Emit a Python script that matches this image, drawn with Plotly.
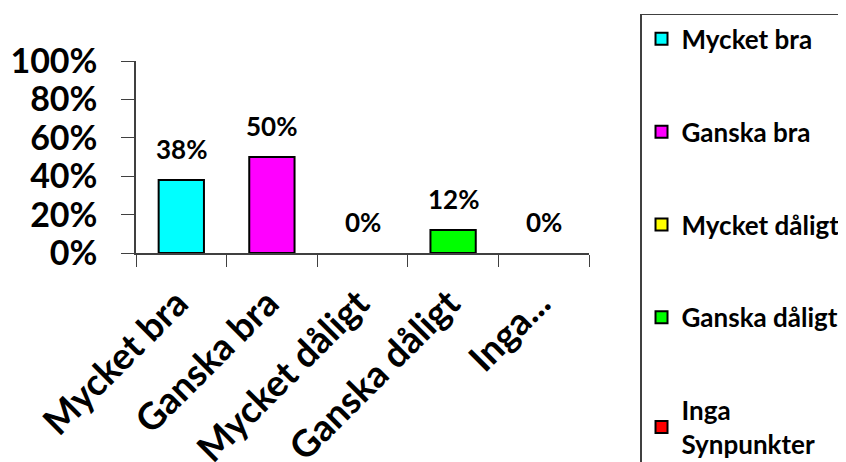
import plotly.graph_objects as go

categories = ["Mycket bra", "Ganska bra", "Mycket dåligt", "Ganska dåligt", "Inga Synpunkter"]
tick_labels = ["Mycket bra", "Ganska bra", "Mycket dåligt", "Ganska dåligt", "Inga..."]
legend_names = ["Mycket bra", "Ganska bra", "Mycket dåligt", "Ganska dåligt", "Inga<br>Synpunkter"]
values = [0.38, 0.50, 0.0, 0.12, 0.0]
colors = ["#00FFFF", "#FF00FF", "#FFFF00", "#00FF00", "#FF0000"]
y_ticks = [0, 0.2, 0.4, 0.6, 0.8, 1.0]

FONT = "Lato"

fig = go.Figure()
for cat, name, v, c in zip(categories, legend_names, values, colors):
    fig.add_trace(go.Bar(
        x=[cat], y=[v if v > 0 else None], name=name, legendgroup=cat,
        marker=dict(color=c, line=dict(color="black", width=2)),
        width=0.5,
    ))
    fig.add_annotation(
        x=cat, y=v, text=f"{round(v*100)}%", showarrow=False,
        yanchor="bottom", yshift=13,
        font=dict(family=FONT, size=26, color="black", weight="bold"),
    )

fig.update_layout(
    width=838, height=454,
    margin=dict(l=128, r=257, t=53, b=209, autoexpand=False),
    paper_bgcolor="white", plot_bgcolor="white",
    barmode="overlay",
    showlegend=True,
    legend=dict(
        x=1.1126, y=1.245, xanchor="left", yanchor="top",
        traceorder="grouped", tracegroupgap=56,
        bordercolor="#404040", borderwidth=1.5,
        font=dict(family=FONT, size=26, color="black", weight="bold"),
        entrywidth=260, maxheight=2000,
        itemclick=False,
    ),
    xaxis=dict(
        categoryorder="array", categoryarray=categories,
        tickmode="array", tickvals=categories, ticktext=tick_labels,
        tickangle=-45, tickson="boundaries", ticks="outside", ticklen=12,
        tickcolor="#404040", showline=True, linecolor="#404040", linewidth=1.5,
        tickfont=dict(family=FONT, size=37, color="black", weight="bold"),
        showgrid=False, range=[-0.5, 4.5], automargin=False,
        ticklabelstandoff=12, ticklabelshift=-4,
    ),
    yaxis=dict(
        range=[0, 1], tickvals=y_ticks, tickformat=".0%",
        ticks="outside", ticklen=13, tickcolor="#404040",
        showline=True, linecolor="#404040", linewidth=1.5,
        tickfont=dict(family=FONT, size=34, color="black", weight="bold"),
        showgrid=False, zeroline=False, ticklabelstandoff=17, automargin=False,
    ),
)

fig.write_html("out.html")
